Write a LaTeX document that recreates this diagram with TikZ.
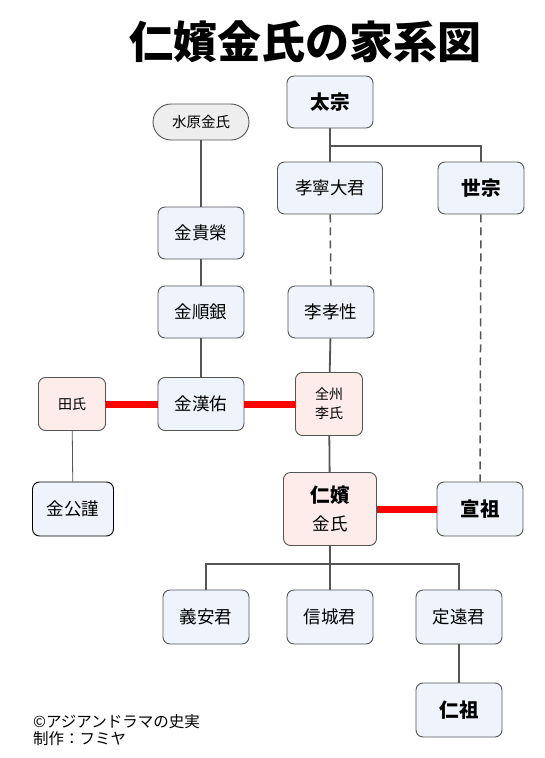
\documentclass[tikz,border=0pt]{standalone}
\usepackage{fontspec}
\setmainfont{Noto Sans CJK JP}
\definecolor{boxblue}{HTML}{EEF3FC}
\definecolor{boxpink}{HTML}{FDECEA}
\definecolor{boxgray}{HTML}{EEEEEE}
\definecolor{linegray}{HTML}{555555}
\begin{document}
\begin{tikzpicture}[x=1pt,y=-1pt,
  every node/.style = {align=center, inner sep=0pt},
  person/.style = {shape=rectangle, rounded corners=7pt,
    draw=linegray, line width=0.9pt, fill=boxblue,
    minimum width=86pt, minimum height=52pt,
    font=\fontsize{17.5}{21}\selectfont},
  wife/.style = {person, fill=boxpink, font=\fontsize{14}{19}\selectfont},
  king/.style = {person, font=\fontsize{19.5}{23}\bfseries},
  clan/.style = {person, rounded corners=18pt, fill=boxgray,
    minimum width=96pt, minimum height=36pt, font=\fontsize{14.5}{17}\selectfont},
  line/.style = {draw=linegray, line width=1.8pt},
  blood/.style = {draw=linegray, line width=1.5pt, dash pattern=on 8pt off 5pt},
  marriage/.style = {draw=red, line width=7pt}]
  \useasboundingbox (0,0) rectangle (544,758);
  \node (title) at (305,42) {\fontsize{44}{48}\bfseries 仁嬪金氏の家系図};

  % upper generations
  \node[king] (taejong) at (330,102) {太宗};
  \node[clan] (suwon) at (201,122) {水原金氏};
  \node[person, minimum width=105pt] (hyoryeong) at (330,188) {孝寧大君};
  \node[king] (sejong) at (481,188) {世宗};
  \node[person] (gwiyeong) at (201,233) {金貴榮};
  \node[person] (sooneun) at (201,312) {金順銀};
  \node[person] (hyoseong) at (331,312) {李孝性};

  % parents
  \node[wife, minimum width=67pt, minimum height=53pt] (jeon) at (72,404) {田氏};
  \node[person, minimum height=53pt] (hanwoo) at (201,404) {金漢佑};
  \node[wife, minimum width=67pt, minimum height=63pt] (jeonju) at (329,404) {全州\\李氏};
  \node[person, draw=black, minimum width=81pt, minimum height=54pt] (gonggeun) at (73,509) {金公謹};
  \node[person, fill=boxpink, minimum width=93pt, minimum height=73pt,
    font=\fontsize{17.5}{28}\selectfont] (inbin) at (330,509) {{\fontsize{19.5}{28}\bfseries 仁嬪}\\金氏};
  \node[king, minimum height=54pt] (seonjo) at (480,509) {宣祖};

  % children
  \node[person, minimum height=54pt] (uian) at (206,617) {義安君};
  \node[person, minimum height=54pt] (sinseong) at (330,617) {信城君};
  \node[person, minimum height=54pt] (jeongwon) at (459,617) {定遠君};
  \node[king, minimum height=54pt] (injo) at (459,710) {仁祖};

  \node[anchor=west, align=left, font=\fontsize{15.5}{17}\selectfont] (credit) at (33,730)
    {©アジアンドラマの史実\\制作：フミヤ};

  % connectors
  \coordinate (fork1) at (330,146);
  \coordinate (fork2) at (330,564);
  \draw[line] (taejong) -- (hyoryeong);
  \draw[line] (fork1) -| (sejong.north);
  \draw[line] (suwon) -- (gwiyeong);
  \draw[line] (gwiyeong) -- (sooneun);
  \draw[line] (sooneun) -- (hanwoo);
  \draw[blood] (hyoryeong) -- (hyoseong);
  \draw[blood] (sejong) -- (seonjo);
  \draw[line] (hyoseong) -- (jeonju);
  \draw[line] (jeonju) -- (inbin);
  \draw[draw=linegray, line width=0.8pt] (jeon) -- (gonggeun);
  \draw[line] (inbin) -- (sinseong);
  \draw[line] (uian.north) |- (fork2) -| (jeongwon.north);
  \draw[line] (jeongwon) -- (injo);
  \draw[marriage] (jeon) -- (hanwoo);
  \draw[marriage] (hanwoo) -- (jeonju);
  \draw[marriage] (inbin) -- (seonjo);
\end{tikzpicture}
\end{document}
